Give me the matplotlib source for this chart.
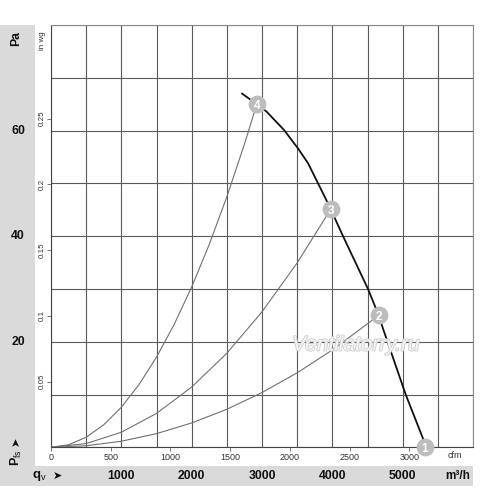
import matplotlib
matplotlib.use("Agg")
import matplotlib.pyplot as plt
from matplotlib.patches import Rectangle
from matplotlib.transforms import blended_transform_factory
import matplotlib.patheffects as pe

plt.rcParams['font.family'] = ['Liberation Sans', 'DejaVu Sans']
plt.rcParams['mathtext.fontset'] = 'custom'
plt.rcParams['mathtext.rm'] = 'Liberation Sans'
plt.rcParams['mathtext.bf'] = 'Liberation Sans:bold'

# ---------------- data ----------------
# fan characteristic curve (m3/h, Pa)
fan_q = [2717, 2926, 3064, 3314, 3513, 3655, 3797, 3916, 3977, 4152, 4507,
         4659, 4720, 5043, 5288, 5317]
fan_p = [67.0, 65.0, 63.6, 60.1, 56.6, 53.8, 50.0, 46.8, 45.1, 40.0, 30.0,
         25.0, 22.5, 10.0, 1.7, 0.0]

# system (resistance) curves
sys4_q = [0, 250, 500, 750, 1000, 1250, 1500, 1750, 2000, 2250, 2500, 2750, 2926]
sys4_p = [0, 0.48, 1.90, 4.27, 7.59, 11.86, 17.08, 23.25, 30.37, 38.43, 47.45, 57.41, 65.0]
sys3_q = [0, 500, 1000, 1500, 2000, 2500, 3000, 3500, 3977]
sys3_p = [0, 0.71, 2.85, 6.42, 11.41, 17.82, 25.66, 34.93, 45.1]
sys2_q = [0, 500, 1000, 1500, 2000, 2500, 3000, 3500, 4000, 4659]
sys2_p = [0, 0.29, 1.15, 2.59, 4.61, 7.20, 10.37, 14.11, 18.43, 25.0]

# operating points
pt_q = [5317, 4659, 3977, 2926]
pt_p = [0.0, 25.0, 45.1, 65.0]
pt_lbl = ['1', '2', '3', '4']

# axis ticks / labels
pa_ticks = [20, 40, 60]
inwg_ticks = [0.05, 0.1, 0.15, 0.2, 0.25]
inwg_lbls = ['0.05', '0.1', '0.15', '0.2', '0.25']
cfm_ticks = [0, 500, 1000, 1500, 2000, 2500, 3000]
m3h_ticks = [1000, 2000, 3000, 4000, 5000]

PA_PER_INWG = 249.089
M3H_PER_CFM = 1.699

# ---------------- figure ----------------
W, H = 500, 488
fig = plt.figure(figsize=(W / 100, H / 100), dpi=100)
fig.patch.set_facecolor('white')

grey = '#dadada'
fig.patches.append(Rectangle((0, 2 / H), 35 / W, (486 - 25) / H,
                             transform=fig.transFigure, facecolor=grey,
                             edgecolor='none', zorder=-5))
fig.patches.append(Rectangle((0, 2 / H), 473 / W, (486 - 466) / H,
                             transform=fig.transFigure, facecolor=grey,
                             edgecolor='none', zorder=-5))

ax = fig.add_axes([51 / W, 1 - 447.3 / H, (473 - 51) / W, (447.3 - 25) / H])
ax.set_xlim(0, 6000)
ax.set_ylim(0, 80)
ax.set_xticks(range(0, 6001, 500))
ax.set_yticks(range(0, 81, 10))
ax.tick_params(length=0, labelbottom=False, labelleft=False)
ax.grid(True, color='#5a5a5a', linewidth=0.8)
ax.set_axisbelow(True)
for s in ax.spines.values():
    s.set_color('#8a8a8a')
    s.set_linewidth(0.8)
ax.spines['left'].set_color('#444444')
ax.spines['bottom'].set_color('#444444')

# curves
for q, p in ((sys2_q, sys2_p), (sys3_q, sys3_p), (sys4_q, sys4_p)):
    ax.plot(q, p, color='#707070', linewidth=0.8, zorder=3)
ax.plot(fan_q, fan_p, color='#111111', linewidth=1.3, zorder=4)

# operating points
ax.plot(pt_q, pt_p, 'o', markersize=12.8, color='#bdbdbd', markeredgewidth=0,
        zorder=5, clip_on=False)
for q, p, l in zip(pt_q, pt_p, pt_lbl):
    ax.text(q, p, l, color='white', fontsize=8.5, fontweight='bold',
            ha='center', va='center_baseline', zorder=6, clip_on=False)

# secondary axes: cfm (bottom) and in wg (left)
secx = ax.secondary_xaxis('bottom', functions=(lambda m: m / M3H_PER_CFM,
                                               lambda c: c * M3H_PER_CFM))
secx.set_xticks(cfm_ticks)
secx.set_xticklabels([str(c) for c in cfm_ticks])
secx.tick_params(length=3, width=0.6, color='#666666', labelsize=6.5,
                 labelcolor='#333333', pad=1)
secx.spines['bottom'].set_visible(False)

secy = ax.secondary_yaxis('left', functions=(lambda p: p / PA_PER_INWG,
                                             lambda w: w * PA_PER_INWG))
secy.set_yticks(inwg_ticks)
secy.set_yticklabels(inwg_lbls, rotation=90, va='center')
secy.tick_params(length=3, width=0.6, color='#666666', labelsize=5.8,
                 labelcolor='#333333', pad=1)
secy.spines['left'].set_visible(False)

# Pa labels in grey strip
tr_y = blended_transform_factory(fig.transFigure, ax.transData)
for p in pa_ticks:
    ax.text(18 / W, p, str(p), transform=tr_y, fontsize=8.8, fontweight='bold',
            ha='center', va='center', color='#111111', clip_on=False)
# m3/h labels in bottom strip
tr_x = blended_transform_factory(ax.transData, fig.transFigure)
for m in m3h_ticks:
    ax.text(m, 1 - 476 / H, str(m), transform=tr_x, fontsize=8.8,
            fontweight='bold', ha='center', va='center', color='#111111',
            clip_on=False)

fig.text(458 / W, 1 - 476 / H, 'm³/h', fontsize=8.5, fontweight='bold',
         ha='center', va='center', color='#111111')
fig.text(455 / W, 1 - 456 / H, 'cfm', fontsize=6.5, ha='center', va='center',
         color='#333333')
fig.text(16 / W, 1 - 38 / H, 'Pa', fontsize=8.8, fontweight='bold',
         rotation=90, ha='center', va='center', color='#111111')
fig.text(43 / W, 1 - 41 / H, 'in wg', fontsize=5.8, rotation=90,
         ha='center', va='center', color='#333333')

# axis symbols
fig.text(16 / W, 1 - 458 / H, r'$\mathbf{P}_{\mathrm{fs}}$', fontsize=9,
         rotation=90, ha='center', va='center', color='#111111')
fig.text(16 / W, 1 - 441 / H, '➤', fontsize=8, rotation=90, ha='center',
         va='center', color='#111111', family=['DejaVu Sans'])
fig.text(39 / W, 1 - 476 / H, r'$\mathbf{q}_{\mathrm{v}}$', fontsize=9.5,
         ha='center', va='center', color='#111111')
fig.text(57 / W, 1 - 476 / H, '➤', fontsize=8, ha='center', va='center',
         color='#111111', family=['DejaVu Sans'])

# watermark
fig.text(356 / W, 1 - 345 / H, 'Ventilatorry.ru', fontsize=15, style='italic',
         ha='center', va='center', color='#f4f4f4', zorder=2,
         path_effects=[pe.withStroke(linewidth=1.3, foreground='#cfcfcf')])

fig.savefig('out.png', dpi=100)
